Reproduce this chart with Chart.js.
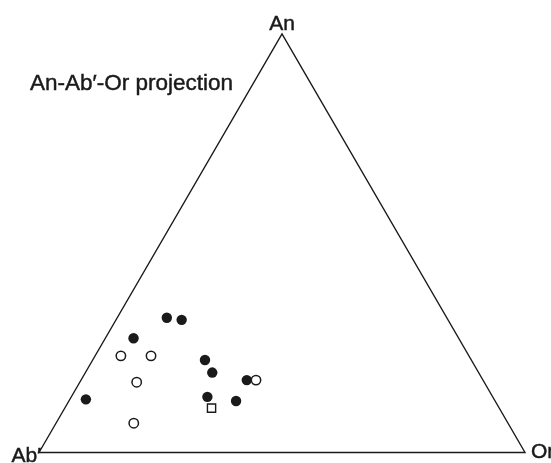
<!DOCTYPE html>
<html>
<head>
<meta charset="utf-8">
<script src="https://cdn.jsdelivr.net/npm/chart.js@4/dist/chart.umd.min.js"></script>
<style>
  html, body { margin: 0; padding: 0; background: #fff; }
  canvas { display: block; }
</style>
</head>
<body>
<canvas id="c" width="551" height="463"></canvas>
<script>
// Normative feldspar compositions (mol %), An–Ab′–Or
const vertexLabels = ['An', 'Ab′', 'Or'];
const titleText = 'An-Ab′-Or projection';

// Group 1 (filled circles)
const filledAn = [32.2, 31.7, 27.3, 22.1, 19.1, 17.3, 12.7, 13.3, 12.3];
const filledAb = [57.6, 54.8, 66.9, 54.8, 54.8, 48.6, 84.0, 58.7, 53.3];
const filledOr = [10.2, 13.5, 5.8, 23.1, 26.1, 34.1, 3.3, 28.0, 34.4];

// Group 2 (open circles)
const openAn = [23.1, 23.1, 16.8, 17.3, 7.0];
const openAb = [71.6, 65.4, 71.5, 46.7, 77.0];
const openOr = [5.3, 11.5, 11.7, 36.0, 16.0];

// Group 3 (open square)
const squareAn = [10.6];
const squareAb = [59.2];
const squareOr = [30.2];

const H = Math.sqrt(3) / 2;

// Ternary -> Cartesian: Ab′ at (0,0), Or at (1,0), An at (0.5, H)
function toXY(an, ab, or) {
  return an.map((a, i) => {
    const t = a + ab[i] + or[i];
    const fa = a / t, fo = or[i] / t;
    return { x: fo + fa / 2, y: fa * H };
  });
}

const outline = [{ x: 0, y: 0 }, { x: 0.5, y: H }, { x: 1, y: 0 }, { x: 0, y: 0 }];

const ink = '#1a1a1a';
const labelFont = '21px "Liberation Sans", Arial, sans-serif';
const titleFont = '22.5px "Liberation Sans", Arial, sans-serif';

// fill plus a hairline stroke gives the slightly heavier printed look
function inkText(ctx, text, x, y) {
  ctx.fillText(text, x, y);
  ctx.strokeText(text, x, y);
}

const labelsPlugin = {
  id: 'ternaryLabels',
  afterDraw(chart) {
    const { ctx, scales } = chart;
    const sx = scales.x, sy = scales.y;
    const apexX = sx.getPixelForValue(0.5), apexY = sy.getPixelForValue(H);
    const leftX = sx.getPixelForValue(0), baseY = sy.getPixelForValue(0);
    const rightX = sx.getPixelForValue(1);
    ctx.save();
    ctx.fillStyle = ink;
    ctx.strokeStyle = ink;
    ctx.lineWidth = 0.45;
    ctx.font = labelFont;
    ctx.textBaseline = 'alphabetic';
    // apex
    ctx.textAlign = 'center';
    inkText(ctx, vertexLabels[0], apexX, apexY - 4);
    // left corner
    ctx.textAlign = 'right';
    inkText(ctx, vertexLabels[1], leftX + 2, baseY + 9);
    // right corner
    ctx.textAlign = 'left';
    inkText(ctx, vertexLabels[2], rightX + 6, baseY + 5);
    // panel title
    ctx.font = titleFont;
    ctx.textAlign = 'left';
    inkText(ctx, titleText, 30, 90);
    ctx.restore();
  }
};

new Chart(document.getElementById('c'), {
  type: 'scatter',
  data: {
    datasets: [
      {
        label: 'outline',
        type: 'line',
        data: outline,
        borderColor: ink,
        borderWidth: 1.4,
        pointRadius: 0,
        fill: false,
        tension: 0,
        clip: false,
        order: 3
      },
      {
        label: 'filled',
        data: toXY(filledAn, filledAb, filledOr),
        pointStyle: 'circle',
        pointRadius: 5.2,
        backgroundColor: ink,
        borderColor: ink,
        borderWidth: 0,
        clip: false,
        order: 2
      },
      {
        label: 'square',
        data: toXY(squareAn, squareAb, squareOr),
        pointStyle: 'rect',
        pointRadius: 5.8,
        backgroundColor: '#fff',
        borderColor: ink,
        borderWidth: 1.4,
        clip: false,
        order: 1
      },
      {
        label: 'open',
        data: toXY(openAn, openAb, openOr),
        pointStyle: 'circle',
        pointRadius: 4.7,
        backgroundColor: '#fff',
        borderColor: ink,
        borderWidth: 1.5,
        clip: false,
        order: 0
      }
    ]
  },
  options: {
    responsive: false,
    animation: false,
    layout: { padding: { left: 39, right: 26, top: 34, bottom: 10.5 } },
    plugins: { legend: { display: false }, tooltip: { enabled: false } },
    scales: {
      x: { type: 'linear', min: 0, max: 1, display: false },
      y: { type: 'linear', min: 0, max: H, display: false }
    }
  },
  plugins: [labelsPlugin]
});
</script>
</body>
</html>
